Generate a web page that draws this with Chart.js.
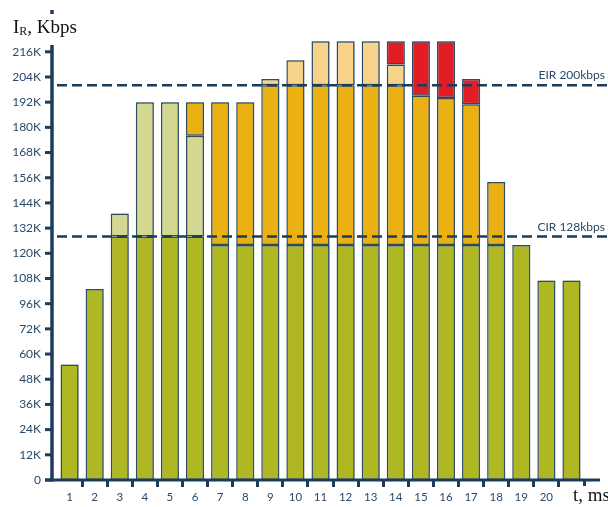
<!DOCTYPE html>
<html>
<head>
<meta charset="utf-8">
<script src="https://cdn.jsdelivr.net/npm/chart.js@4.4.1/dist/chart.umd.min.js"></script>
<style>
  html, body { margin: 0; padding: 0; background: #fff; }
  canvas { display: block; }
</style>
</head>
<body>
<canvas id="chart" width="608" height="507"></canvas>
<script>
'use strict';

// Time slots, ms (x axis).
var slots = ['1', '2', '3', '4', '5', '6', '7', '8', '9', '10', '11',
             '12', '13', '14', '15', '16', '17', '18', '19', '20', '21'];

// Rate in each slot, Kbps, split into colour bands (bottom to top).
var green       = [55, 103, 128, 128, 128, 128, 124, 124, 124, 124, 124, 124, 124, 124, 124, 124, 124, 124, 124, 107, 107];
var lightGreen  = [null, null, 11, 64, 64, 48, null, null, null, null, null, null, null, null, null, null, null, null, null, null, null];
var yellow      = [null, null, null, null, null, 16, 68, 68, 76, 76, 76, 76, 76, 76, 71, 70, 67, 30, null, null, null];
var lightYellow = [null, null, null, null, null, null, null, null, 3, 12, 21, 21, 21, 10, null, null, null, null, null, null, null];
var red         = [null, null, null, null, null, null, null, null, null, null, null, null, null, 11, 26, 27, 12, null, null, null, null];

// Y axis labels, Kbps (the original axis skips 84K).
var yTicks = [0, 12, 24, 36, 48, 60, 72, 96, 108, 120, 132, 144, 156, 168, 180, 192, 204, 216];
var yMax = 228;

var CIR = 128;
var EIR = 200;

var NAVY = '#1b3c5b';
var TEXT = '#2a4a69';

// The axis squeezes 72K..96K into one step, so map values onto
// an evenly spaced position before handing them to the linear scale.
function toPos(v) {
  if (v <= 72) return v;
  if (v <= 96) return 72 + (v - 72) / 2;
  return v - 12;
}

class BrokenLinearScale extends Chart.LinearScale {
  buildTicks() {
    return yTicks.map(function (v) { return { value: v }; });
  }
  configure() {
    super.configure();
    this._startValue = toPos(this.min);
    this._endValue = toPos(this.max);
    this._valueRange = this._endValue - this._startValue;
  }
  getPixelForValue(value) {
    return super.getPixelForValue(value === null ? null : toPos(value));
  }
}
BrokenLinearScale.id = 'brokenLinear';
BrokenLinearScale.defaults = Chart.LinearScale.defaults;
Chart.register(BrokenLinearScale);

Chart.defaults.font.family = 'Lato, "Open Sans", sans-serif';

function band(data, color) {
  return {
    data: data,
    backgroundColor: color,
    borderColor: '#2c4c60',
    borderWidth: 1.5,
    borderSkipped: false,
    barPercentage: 0.72,
    categoryPercentage: 1
  };
}

var shadowPlugin = {
  id: 'barShadow',
  beforeDatasetsDraw: function (chart) {
    var ctx = chart.ctx;
    ctx.save();
    ctx.shadowColor = 'rgba(60, 90, 110, 0.45)';
    ctx.shadowOffsetX = 1.5;
    ctx.shadowBlur = 1;
  },
  afterDatasetsDraw: function (chart) {
    chart.ctx.restore();
  }
};

var decorPlugin = {
  id: 'decor',
  afterDatasetsDraw: function (chart) {
    var ctx = chart.ctx,
        y = chart.scales.y,
        area = chart.chartArea,
        axisX = area.left - 5;

    ctx.save();

    // CIR / EIR thresholds
    ctx.strokeStyle = NAVY;
    ctx.lineWidth = 2.5;
    ctx.setLineDash([10, 5]);
    [[CIR, 'CIR 128kbps'], [EIR, 'EIR 200kbps']].forEach(function (line) {
      var py = y.getPixelForValue(line[0]);
      ctx.beginPath();
      ctx.moveTo(area.left, py);
      ctx.lineTo(chart.width, py);
      ctx.stroke();
      ctx.fillStyle = TEXT;
      ctx.font = '12px Lato, sans-serif';
      ctx.textAlign = 'right';
      ctx.textBaseline = 'alphabetic';
      ctx.fillText(line[1], chart.width - 3, py - 6);
    });
    ctx.setLineDash([]);

    // axes
    ctx.strokeStyle = NAVY;
    ctx.lineWidth = 3.5;
    ctx.beginPath();
    ctx.moveTo(axisX, 10);
    ctx.lineTo(axisX, area.bottom + 1.5);
    ctx.stroke();

    ctx.lineWidth = 3;
    ctx.beginPath();
    ctx.moveTo(axisX - 7, area.bottom);
    ctx.lineTo(chart.width - 8, area.bottom);
    ctx.stroke();

    y.ticks.forEach(function (t) {
      var py = y.getPixelForValue(t.value);
      ctx.beginPath();
      ctx.moveTo(axisX - 7, py);
      ctx.lineTo(axisX, py);
      ctx.stroke();
    });

    // y title: I_R, Kbps
    ctx.fillStyle = '#fff';
    ctx.fillRect(0, 14, 95, 31);
    ctx.fillStyle = '#111';
    ctx.textAlign = 'left';
    ctx.textBaseline = 'alphabetic';
    ctx.font = '19px "Liberation Serif", "Times New Roman", serif';
    ctx.fillText('I', 13, 33);
    var iw = ctx.measureText('I').width;
    ctx.font = '12px "Liberation Serif", "Times New Roman", serif';
    ctx.fillText('R', 13 + iw, 35);
    var rw = ctx.measureText('R').width;
    ctx.font = '19px "Liberation Serif", "Times New Roman", serif';
    ctx.fillText(', Kbps', 13 + iw + rw, 33);

    // x title: t, ms
    ctx.fillStyle = '#fff';
    ctx.fillRect(564, area.bottom + 6, chart.width - 564, chart.height - area.bottom - 6);
    ctx.fillStyle = '#111';
    ctx.fillText('t, ms', 573, 501);

    ctx.restore();
  }
};

new Chart(document.getElementById('chart').getContext('2d'), {
  type: 'bar',
  data: {
    labels: slots,
    datasets: [
      band(green, '#afb722'),
      band(lightGreen, '#d3d78f'),
      band(yellow, '#ebb012'),
      band(lightYellow, '#f6d28b'),
      band(red, '#e21d26')
    ]
  },
  options: {
    responsive: false,
    animation: false,
    devicePixelRatio: 1,
    layout: { padding: { top: 26.6, right: 24, bottom: 0, left: 0 } },
    plugins: {
      legend: { display: false },
      title: { display: false },
      tooltip: { enabled: false }
    },
    scales: {
      x: {
        stacked: true,
        border: { display: false },
        grid: {
          display: true,
          offset: true,
          drawOnChartArea: false,
          drawTicks: true,
          tickLength: 7,
          lineWidth: 3,
          color: function (ctx) { return ctx.index === 0 ? 'rgba(0,0,0,0)' : NAVY; }
        },
        ticks: {
          color: TEXT,
          font: { size: 11.5 },
          padding: 3,
          maxRotation: 0,
          autoSkip: false
        },
        afterFit: function (scale) { scale.height = 27; }
      },
      y: {
        type: 'brokenLinear',
        stacked: true,
        min: 0,
        max: yMax,
        border: { display: false },
        grid: { display: false, drawTicks: false },
        ticks: {
          color: TEXT,
          font: { size: 12 },
          padding: 16,
          autoSkip: false,
          callback: function (v) { return v === 0 ? '0' : v + 'K'; }
        },
        afterFit: function (scale) { scale.width = 57; }
      }
    }
  },
  plugins: [shadowPlugin, decorPlugin]
});
</script>
</body>
</html>
